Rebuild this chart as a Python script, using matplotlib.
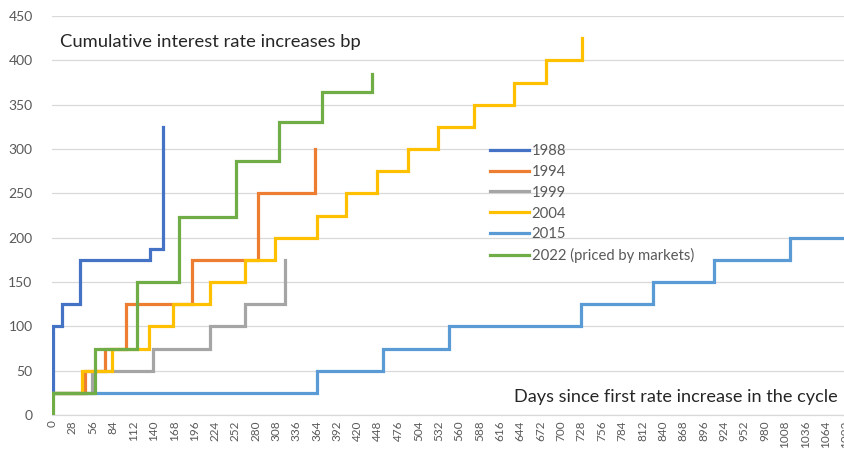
import numpy as np
import matplotlib
matplotlib.use("Agg")
import matplotlib.pyplot as plt

plt.rcParams['font.family'] = ['Lato', 'DejaVu Sans']

# ── data (days since first hike, cumulative bp) ─────────────────────────
days_1988 = [0, 1, 14, 38, 135, 153]
bp_1988 = [25, 100, 125, 175, 187.5, 325]

days_1994 = [0, 46, 73, 102, 193, 284, 362]
bp_1994 = [25, 50, 75, 125, 175, 250, 300]

days_1999 = [0, 55, 139, 217, 265, 321]
bp_1999 = [25, 50, 75, 100, 125, 175]

days_2004 = [0, 41, 83, 133, 167, 217, 265, 307, 365, 405, 447, 489, 531, 580, 636, 679, 729]
bp_2004 = [25, 50, 75, 100, 125, 150, 175, 200, 225, 250, 275, 300, 325, 350, 375, 400, 425]

days_2015 = [0, 364, 455, 546, 728, 826, 910, 1015, 1092]
bp_2015 = [25, 50, 75, 100, 125, 150, 175, 200, 200]

days_2022 = [0, 1, 59, 117, 174, 253, 312, 371, 440]
bp_2022 = [0, 25, 75, 150, 223, 286, 331, 364, 385]

series = [
    ('1988', days_1988, bp_1988, '#4472C4'),
    ('1994', days_1994, bp_1994, '#ED7D31'),
    ('1999', days_1999, bp_1999, '#A5A5A5'),
    ('2004', days_2004, bp_2004, '#FFC000'),
    ('2015', days_2015, bp_2015, '#5B9BD5'),
    ('2022 (priced by markets)', days_2022, bp_2022, '#70AD47'),
]

x_ticks = list(range(0, 1093, 28))
y_ticks = list(range(0, 451, 50))

# ── figure ──────────────────────────────────────────────────────────────
W, H = 844, 457
fig = plt.figure(figsize=(W / 100, H / 100), dpi=100)
ax = fig.add_axes([52 / W, 1 - 415 / H, (846 - 52) / W, (415 - 16) / H])

for i, (name, d, v, c) in enumerate(series):
    ax.step(d, v, where='post', color=c, lw=2.3, label=name, zorder=3 + i,
            solid_joinstyle='miter')

ax.set_xlim(0, 1092)
ax.set_ylim(0, 450)
ax.set_xticks(x_ticks)
ax.set_xticklabels([str(t) for t in x_ticks], rotation=90, fontsize=8.5, color='#595959')
ax.set_yticks(y_ticks)
ax.set_yticklabels([str(t) for t in y_ticks], fontsize=10, color='#595959')
ax.tick_params(axis='both', length=0)
ax.tick_params(axis='y', pad=14)
ax.tick_params(axis='x', pad=4)

ax.grid(axis='y', color='#D9D9D9', lw=0.9, zorder=0)
for s in ['top', 'right', 'left']:
    ax.spines[s].set_visible(False)
ax.spines['bottom'].set_color('#D9D9D9')
ax.spines['bottom'].set_linewidth(0.9)

fig.text(60 / W, 1 - 42 / H, 'Cumulative interest rate increases bp', fontsize=13.2,
         color='#262626', ha='left', va='center')
fig.text(514 / W, 1 - 397 / H, 'Days since first rate increase in the cycle', fontsize=13.1,
         color='#262626', ha='left', va='center')

leg = ax.legend(loc='upper left', bbox_to_anchor=((490 - 52) / (846 - 52), (415 - 144) / (415 - 16)),
                frameon=False, fontsize=10.7, handlelength=2.6, handletextpad=0.2,
                labelspacing=0.46, borderpad=0, borderaxespad=0)
for t in leg.get_texts():
    t.set_color('#595959')

fig.savefig('out.png', dpi=100)
